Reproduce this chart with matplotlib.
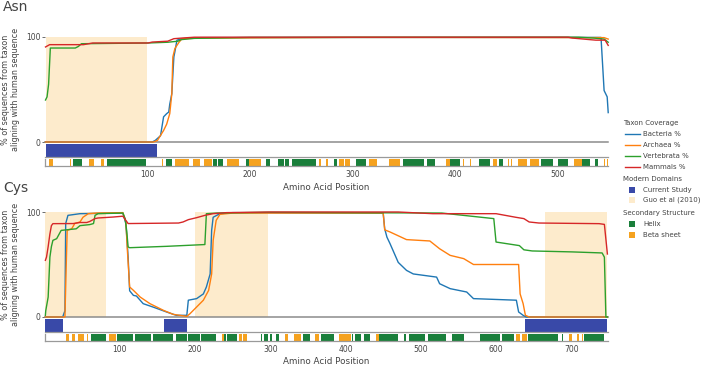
import matplotlib
matplotlib.use("Agg")
import matplotlib.pyplot as plt
from matplotlib.patches import Rectangle
from matplotlib.lines import Line2D

plt.rcParams['font.family'] = ['DejaVu Sans']

# ---------------- data ----------------
series_names = ["Bacteria %", "Archaea %", "Vertebrata %", "Mammals %"]
series_colors = ["#1f77b4", "#ff7f0e", "#2ca02c", "#d62728"]

asn_len = 548
asn_bact_x = [1, 105, 108, 113, 116, 119, 121, 122, 124, 126, 127, 129, 134, 152, 300, 542, 545, 548, 549]
asn_bact_y = [0, 0, 1.6, 6, 24, 27, 28.5, 36, 46, 81, 86, 97, 98.4, 99.4, 99.6, 99.6, 49, 43, 28]
asn_arch_x = [1, 106, 110, 116, 119, 122, 124, 125, 127, 131, 134, 152, 300, 545, 549]
asn_arch_y = [0, 0, 1.5, 11, 17, 27, 46, 81, 89, 95, 98.4, 99, 99.6, 99.4, 98]
asn_vert_x = [1, 2.5, 4, 5.7, 30, 33, 36, 101, 120, 130, 133, 146, 200, 520, 535, 545, 549]
asn_vert_y = [40, 43, 55, 89.5, 89.5, 91, 93.6, 94.3, 95, 96, 97.5, 98.7, 99.6, 99.8, 99, 98, 95]
asn_mamm_x = [1, 5, 38, 47, 101, 105, 120, 126, 134, 146, 510, 514, 531, 537, 546, 549]
asn_mamm_y = [90.5, 92.7, 92.7, 94.3, 94.3, 95.2, 96, 98.4, 99, 99.8, 99.8, 99, 97.5, 97, 97, 92]

cys_len = 748
cys_bact_x = [1, 24, 27, 28, 31, 47, 96, 104, 108, 111, 113, 118, 122, 131, 144, 162, 175, 189, 191, 202, 211, 215,
              220, 222, 224, 233, 250, 450, 452, 455, 459, 470, 481, 490, 521, 525, 539, 561, 570, 627, 630, 636, 640, 748]
cys_bact_y = [0, 0, 6, 89, 96.8, 98.4, 99, 99, 89, 57, 25, 20.6, 20, 12.7, 9.5, 4.8, 1.6, 1.6, 16, 17.5, 22, 28.6,
              41, 82.5, 95, 98.4, 99.4, 99, 84, 76, 70, 52, 44.4, 41, 38, 31.7, 27, 23.8, 17.5, 16, 4.8, 1.6, 0, 0]
cys_arch_x = [1, 27, 29, 30, 36, 40, 47, 51, 58, 69, 104, 108, 110, 113, 118, 127, 140, 158, 171, 189, 193, 202, 211,
              218, 222, 224, 228, 233, 250, 450, 452, 459, 481, 512, 525, 539, 557, 570, 630, 632, 636, 639, 644, 748]
cys_arch_y = [0, 0, 57, 82.5, 84, 89, 90.5, 95, 98.4, 99, 99.4, 90.5, 63.5, 28.6, 25.4, 19, 12.7, 6.3, 2.5, 0.6, 3, 9.5, 16,
              25.4, 41, 73, 92, 97.8, 99, 99, 83, 81, 73.7, 72.4, 65, 58.7, 55.6, 50, 50, 22, 12.7, 1.6, 0, 0]
cys_vert_x = [1, 1.5, 4.7, 7, 9, 11, 16, 22, 42, 47, 60, 65, 67, 71, 104, 107, 109, 111, 113, 162, 213, 215, 229, 295,
              528, 597, 600, 631, 637, 648, 701, 741, 744, 746, 748]
cys_vert_y = [1.6, 6, 19, 57, 67, 73, 74.6, 82.5, 84, 87, 88, 89, 96.8, 98.4, 99, 93.7, 82.5, 66.7, 66, 67.3, 69, 98.4, 99, 99.7,
              99, 93.7, 71.4, 68, 64, 62.9, 62, 61, 57, 0, 0]
cys_mamm_x = [1, 2.5, 4.7, 7, 9, 11, 38, 47, 56, 60, 67, 71, 91, 104, 108, 111, 178, 184, 191, 202, 213, 224, 242, 299,
              470, 516, 600, 626, 637, 644, 657, 737, 744, 748]
cys_mamm_y = [54, 57, 67, 79, 87, 88.9, 89, 90, 90, 91, 93.7, 94.3, 95.2, 96, 92, 89, 89.5, 90.5, 92.7, 94.6, 96.8, 98.4, 99.4, 100,
              100, 98.4, 98.4, 95, 93.7, 90.5, 89.5, 88.9, 88.2, 60]

# domains: (start, end)
asn_current = [(1, 110)]
asn_guo = [(1, 100)]
cys_current = [(1, 24), (159, 189), (639, 748)]
cys_guo = [(1, 81), (200, 297), (665, 748)]

# secondary structure segments (start, end)
asn_helix = [(28, 37), (61, 99), (118, 124), (164, 168), (169, 174), (196, 199), (216, 220), (227, 233), (234, 238),
             (241, 264), (282, 285), (303, 313), (349, 370), (373, 380), (395, 405), (423, 434), (443, 447),
             (484, 495), (500, 510), (523, 531), (536, 539)]
asn_beta = [(4, 8), (25, 26), (43, 48), (55, 58), (114, 115), (127, 141), (145, 151), (155, 163), (178, 189),
            (199, 211), (267, 269), (274, 276), (287, 292), (293, 298), (316, 324), (336, 346), (391, 395),
            (408, 409), (414, 415), (437, 441), (451, 452), (454, 455), (461, 470), (473, 482), (516, 523),
            (545, 546), (548, 549)]
cys_helix = [(62, 82), (96, 117), (120, 141), (144, 170), (175, 189), (191, 206), (208, 228), (239, 241), (243, 256),
             (287, 289), (292, 297), (299, 302), (308, 311), (343, 353), (367, 384), (408, 410), (413, 420),
             (424, 432), (444, 470), (477, 480), (484, 506), (509, 534), (541, 557), (579, 605), (608, 624),
             (643, 683), (687, 689), (717, 744)]
cys_beta = [(28, 32), (36, 40), (45, 48), (49, 52), (56, 57), (85, 95), (236, 238), (259, 262), (264, 269),
            (319, 324), (332, 335), (336, 341), (359, 365), (391, 396), (397, 400), (401, 404), (405, 407),
            (440, 444), (627, 632), (635, 641), (697, 701), (707, 710), (714, 715)]

asn_ticks = [100, 200, 300, 400, 500]
cys_ticks = [100, 200, 300, 400, 500, 600, 700]

# ---------------- styling ----------------
W, H = 709, 368
DOMAIN_BLUE = "#3949a8"
GUO_SHADE = "#fdebcc"
HELIX = "#1a7f3b"
BETA = "#f5a21f"
AXIS_GREY = "#8c8c8c"
TEXT = "#444444"

fig = plt.figure(figsize=(W / 100, H / 100), dpi=100)


def px_axes(x0, y0, x1, y1):
    return fig.add_axes([x0 / W, 1 - y1 / H, (x1 - x0) / W, (y1 - y0) / H])


def panel(name, title_y, y100, length, series, current, guo, helix, beta, ticks):
    x0, x1 = 45, 608
    y0 = y100
    ymain = y0 + 105
    ax = px_axes(x0, y0, x1, ymain)
    ax.set_xlim(0.5, length + 0.8)
    ax.set_ylim(0, 100)
    for s, e in guo:
        ax.axvspan(s, e, color=GUO_SHADE, lw=0, zorder=0)
    for (xs, ys), c in zip(series, series_colors):
        ax.plot(xs, ys, color=c, lw=1.0, clip_on=False, zorder=3, solid_joinstyle='round')
    for sp in ["top", "right", "left"]:
        ax.spines[sp].set_visible(False)
    ax.spines["bottom"].set_color(AXIS_GREY)
    ax.spines["bottom"].set_linewidth(1.1)
    ax.set_xticks([])
    ax.set_yticks([0, 100])
    ax.tick_params(axis='y', length=2, width=0.6, color='#555555', labelsize=5.5, labelcolor=TEXT, pad=1)
    ax.set_ylabel("% of sequences from taxon\naligning with human sequence", fontsize=5.8, color=TEXT,
                  linespacing=1.2, labelpad=4)
    ax.yaxis.set_label_coords(-0.044, 0.5)

    # domains
    axd = px_axes(x0, ymain + 2, x1, ymain + 15)
    axd.set_xlim(ax.get_xlim())
    axd.set_ylim(0, 1)
    axd.barh([0.5] * len(current), [e - s for s, e in current], left=[s for s, e in current], height=1.0,
             color=DOMAIN_BLUE, lw=0)
    for sp in ["top", "right", "left"]:
        axd.spines[sp].set_visible(False)
    axd.spines["bottom"].set_color("#9a9a9a")
    axd.spines["bottom"].set_linewidth(0.9)
    axd.set_xticks([])
    axd.set_yticks([])

    # secondary structure
    axs = px_axes(x0, ymain + 17, x1, ymain + 24)
    axs.set_xlim(ax.get_xlim())
    axs.set_ylim(0, 1)
    axs.barh([0.5] * len(helix), [e - s for s, e in helix], left=[s for s, e in helix], height=1.0, color=HELIX, lw=0)
    axs.barh([0.5] * len(beta), [e - s for s, e in beta], left=[s for s, e in beta], height=1.0, color=BETA, lw=0)
    for sp in ["top", "right"]:
        axs.spines[sp].set_visible(False)
    for sp in ["left", "bottom"]:
        axs.spines[sp].set_color("#9a9a9a")
        axs.spines[sp].set_linewidth(0.9)
    axs.set_yticks([])
    axs.set_xticks(ticks)
    axs.set_xticklabels([str(t) for t in ticks])
    axs.tick_params(axis='x', length=0, labelsize=5.5, labelcolor=TEXT, pad=3)

    fig.text(326 / W, 1 - (ymain + 45) / H, "Amino Acid Position", ha='center', va='center', fontsize=6.3, color=TEXT)
    fig.text(3 / W, 1 - title_y / H, name, ha='left', va='center', fontsize=10, color=TEXT)


panel("Asn", 7, 37, asn_len,
      [(asn_bact_x, asn_bact_y), (asn_arch_x, asn_arch_y), (asn_vert_x, asn_vert_y), (asn_mamm_x, asn_mamm_y)],
      asn_current, asn_guo, asn_helix, asn_beta, asn_ticks)
panel("Cys", 188, 212, cys_len,
      [(cys_bact_x, cys_bact_y), (cys_arch_x, cys_arch_y), (cys_vert_x, cys_vert_y), (cys_mamm_x, cys_mamm_y)],
      cys_current, cys_guo, cys_helix, cys_beta, cys_ticks)

# ---------------- legend ----------------
axl = px_axes(615, 110, 709, 245)
axl.set_xlim(615, 709)
axl.set_ylim(245, 110)
axl.axis('off')
fs = 5.0
rows_y = [123, 134, 145, 156, 167, 179, 190, 200, 213, 224, 235]
axl.text(623, rows_y[0], "Taxon Coverage", fontsize=fs, color=TEXT, va='center')
for i, (nm, c) in enumerate(zip(series_names, series_colors)):
    y = rows_y[1 + i]
    axl.add_line(Line2D([625, 640], [y, y], color=c, lw=1.0))
    axl.text(643, y, nm, fontsize=fs, color=TEXT, va='center')
axl.text(623, rows_y[5], "Modern Domains", fontsize=fs, color=TEXT, va='center')
for y, nm, c in [(rows_y[6], "Current Study", DOMAIN_BLUE), (rows_y[7], "Guo et al (2010)", GUO_SHADE)]:
    axl.add_patch(Rectangle((629, y - 3), 6, 6, color=c, lw=0))
    axl.text(643, y, nm, fontsize=fs, color=TEXT, va='center')
axl.text(623, rows_y[8], "Secondary Structure", fontsize=fs, color=TEXT, va='center')
for y, nm, c in [(rows_y[9], "Helix", HELIX), (rows_y[10], "Beta sheet", BETA)]:
    axl.add_patch(Rectangle((629, y - 3), 6, 6, color=c, lw=0))
    axl.text(643, y, nm, fontsize=fs, color=TEXT, va='center')

fig.savefig("out.png", dpi=100)
